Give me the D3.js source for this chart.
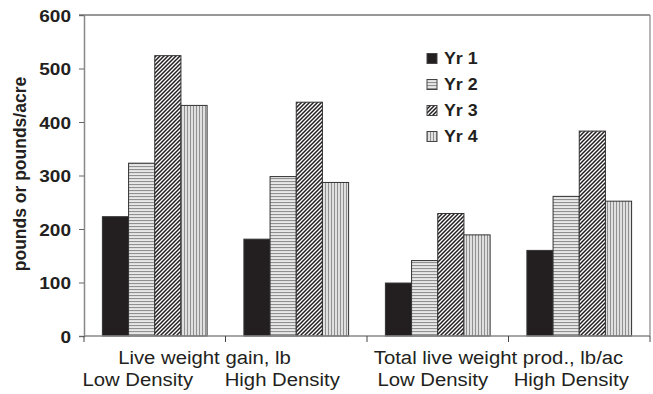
<!DOCTYPE html>
<html><head><meta charset="utf-8">
<script src="https://cdn.jsdelivr.net/npm/d3@7"></script>
<style>body{margin:0;background:#fff}svg{display:block}text{font-family:"Liberation Sans",Arial,sans-serif;fill:#231f20}</style>
</head><body>
<svg id="c" width="653" height="394"></svg>
<script>
const categories = ["LWG Low", "LWG High", "TLWP Low", "TLWP High"];
const series = ["Yr 1", "Yr 2", "Yr 3", "Yr 4"];
const yr1 = [223, 181, 99, 160];
const yr2 = [323, 298, 141, 261];
const yr3 = [524, 437, 229, 383];
const yr4 = [431, 287, 189, 252];
const yTicks = [0, 100, 200, 300, 400, 500, 600];
const groupLabels = ["Live weight gain, lb", "Total live weight prod., lb/ac"];
const densityLabels = ["Low Density", "High Density", "Low Density", "High Density"];
const yTitle = "pounds or pounds/acre";

const values = [yr1, yr2, yr3, yr4];
const svg = d3.select("#c");
const defs = svg.append("defs");

// patterns
const p2 = defs.append("pattern").attr("id","p2").attr("patternUnits","userSpaceOnUse").attr("width",4).attr("height",3);
p2.append("rect").attr("width",4).attr("height",3).attr("fill","#e8e8e8");
p2.append("rect").attr("y",1).attr("width",4).attr("height",1.1).attr("fill","#909090");
const p3 = defs.append("pattern").attr("id","p3").attr("patternUnits","userSpaceOnUse").attr("width",4).attr("height",4);
p3.append("rect").attr("width",4).attr("height",4).attr("fill","#fff");
p3.append("path").attr("d","M-1,1 L1,-1 M0,4 L4,0 M3,5 L5,3").attr("stroke","#231f20").attr("stroke-width",1.5);
const p4 = defs.append("pattern").attr("id","p4").attr("patternUnits","userSpaceOnUse").attr("width",3).attr("height",4);
p4.append("rect").attr("width",3).attr("height",4).attr("fill","#e0e0e0");
p4.append("rect").attr("x",1).attr("width",1).attr("height",4).attr("fill","#909090");
const fills = ["#231f20", "url(#p2)", "url(#p3)", "url(#p4)"];

const x = d3.scaleBand().domain(categories).range([84, 650]).paddingInner(0.26).paddingOuter(0.13);
const xs = d3.scaleBand().domain(series).range([0, x.bandwidth()]);
const y = d3.scaleLinear().domain([0, 600]).range([336, 15]);

// plot frame top/right
svg.append("line").attr("x1",79).attr("x2",650).attr("y1",y(600)).attr("y2",y(600)).attr("stroke","#333").attr("stroke-width",1.2);
svg.append("line").attr("x1",650).attr("x2",650).attr("y1",y(600)).attr("y2",y(0)).attr("stroke","#888").attr("stroke-width",1.2);

// bars
categories.forEach((c, ci) => {
  series.forEach((s, si) => {
    const v = values[si][ci];
    svg.append("rect")
      .attr("x", x(c) + xs(s)).attr("width", xs.bandwidth())
      .attr("y", y(v)).attr("height", y(0) - y(v))
      .attr("fill", fills[si]).attr("stroke", "#333").attr("stroke-width", 1);
  });
});

// y axis
const ya = svg.append("g").attr("transform","translate(84,0)")
  .call(d3.axisLeft(y).tickValues(yTicks).tickSize(5).tickPadding(8));
ya.select(".domain").attr("stroke","#888").attr("stroke-width",1.5);
ya.selectAll(".tick line").attr("stroke","#666");
ya.selectAll(".tick text").attr("font-size",17).attr("font-weight","bold").attr("fill","#231f20")
  .attr("font-family",'"Liberation Sans",Arial,sans-serif')
  .attr("x",0).attr("dy","0.36em")
  .attr("transform","translate(-13,0) scale(1.12,1)");

// x axis
const step = x.step();
const boundaries = d3.range(categories.length + 1).map(i => x.range()[0] + i * step);
svg.append("line").attr("x1",84).attr("x2",650).attr("y1",y(0)).attr("y2",y(0)).attr("stroke","#888").attr("stroke-width",1.5);
svg.selectAll(".xt").data(boundaries).enter().append("line")
  .attr("x1",d=>d).attr("x2",d=>d).attr("y1",y(0)).attr("y2",y(0)+6).attr("stroke","#444");

// x labels
const g1off = [-21, -10];
groupLabels.forEach((t, i) => {
  const cx = boundaries[1 + 2*i] + g1off[i];
  svg.append("text").attr("text-anchor","middle").attr("font-size",19)
    .attr("transform",`translate(${cx},363.5) scale(1.07,1)`).text(t);
});
const dOff = [-17, -14, -5, -8];
densityLabels.forEach((t, i) => {
  const cx = x(categories[i]) + x.bandwidth()/2 + dOff[i];
  svg.append("text").attr("text-anchor","middle").attr("font-size",19)
    .attr("transform",`translate(${cx},386) scale(1.07,1)`).text(t);
});

// y title
svg.append("text").attr("text-anchor","middle").attr("font-size",17.5).attr("font-weight","bold")
  .attr("transform","translate(26,174) rotate(-90)").text(yTitle);

// legend
const lg = svg.append("g");
series.forEach((s, i) => {
  const yy = 53.5 + 26 * i;
  lg.append("rect").attr("x",427).attr("y",yy).attr("width",10).attr("height",10)
    .attr("fill",fills[i]).attr("stroke","#444").attr("stroke-width",1);
  lg.append("text").attr("font-size",16.5).attr("font-weight","bold")
    .attr("transform",`translate(444,${yy+10}) scale(1.08,1)`).text(s);
});
</script>
</body></html>
